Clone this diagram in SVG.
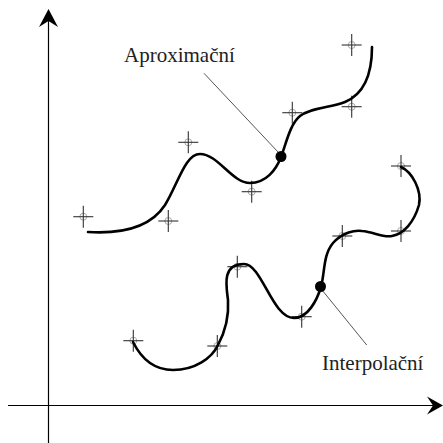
<svg xmlns="http://www.w3.org/2000/svg" xmlns:xlink="http://www.w3.org/1999/xlink" width="443" height="443" viewBox="0 0 443 443">
<style>
.axis{stroke:#000;stroke-width:1.2;fill:none}
.head{fill:#000;stroke:none}
.curve{stroke:#000;stroke-width:2.6;fill:none;stroke-linecap:round}
.leader{stroke:#555;stroke-width:1;fill:none}
.lbl{font-size:21px;fill:#222}
.cl{stroke:#333;stroke-width:1.1}
.cc{stroke:#aaa;stroke-width:1;fill:none}
.dot{fill:#000}
</style>
<defs>
<g id="cross">
<circle class="cc" cx="0" cy="0" r="3.5"/>
<line class="cl" x1="-10" y1="0" x2="10" y2="0"/>
<line class="cl" x1="0" y1="-11" x2="0" y2="11"/>
</g>
</defs>
<g id="axes">
<line class="axis" x1="48.5" y1="443" x2="48.5" y2="18"/>
<path class="head" d="M48.5,9 L58,27 L48.5,21 L39,27 Z"/>
<line class="axis" x1="8" y1="405.5" x2="434" y2="405.5"/>
<path class="head" d="M443,405.5 L427,396.5 L433,405.5 L427,414.5 Z"/>
</g>
<g id="approx-points">
<use xlink:href="#cross" x="83.3" y="216.7"/>
<use xlink:href="#cross" x="168.3" y="221"/>
<use xlink:href="#cross" x="188.3" y="142.3"/>
<use xlink:href="#cross" x="251.7" y="191.7"/>
<use xlink:href="#cross" x="292.3" y="112.7"/>
<use xlink:href="#cross" x="351.7" y="106.7"/>
<use xlink:href="#cross" x="351.7" y="45"/>
</g>
<g id="interp-points">
<use xlink:href="#cross" x="133.3" y="340.7"/>
<use xlink:href="#cross" x="217.3" y="346"/>
<use xlink:href="#cross" x="237.3" y="266.7"/>
<use xlink:href="#cross" x="301.7" y="316.7"/>
<use xlink:href="#cross" x="342.3" y="236"/>
<use xlink:href="#cross" x="401" y="231"/>
<use xlink:href="#cross" x="401" y="166"/>
</g>
<g id="approx-curve">
<path class="curve" d="M88,232 C120,234 150,228 165,205 C178,184 185,154 200,154 C218,154 232,183 250,183 C266,183 276,170 281,157 C286,144 290,124 300,116 C312,107 330,108 345,102 C364,94 372,75 372,47"/>
</g>
<g id="interp-curve">
<path class="curve" d="M133,342 C143,362 158,370 173,370 C195,370 212,358 218,345 C226,330 229,315 228,300 C226,285 222,264 244,264 C262,264 272,318 294,318 C308,318 317,300 321,287 C325,272 323,255 333,243 C343,232 355,230 362,231 C374,232 383,238 392,236 C404,234 414,222 419,205 C422,190 412,172 401,167"/>
</g>
<g id="connectors">
<line class="leader" x1="204" y1="73.3" x2="278" y2="152"/>
<line class="leader" x1="322" y1="290" x2="366.7" y2="345"/>
</g>
<g id="label-approx">
<circle class="dot" cx="281" cy="156.5" r="5.5"/>
<text class="lbl" x="124" y="62" font-family="'Liberation Serif', 'DejaVu Serif', serif">Aproximační</text>
</g>
<g id="label-interp">
<circle class="dot" cx="320.5" cy="286.5" r="5.5"/>
<text class="lbl" x="322" y="370" font-family="'Liberation Serif', 'DejaVu Serif', serif">Interpolační</text>
</g>
</svg>
